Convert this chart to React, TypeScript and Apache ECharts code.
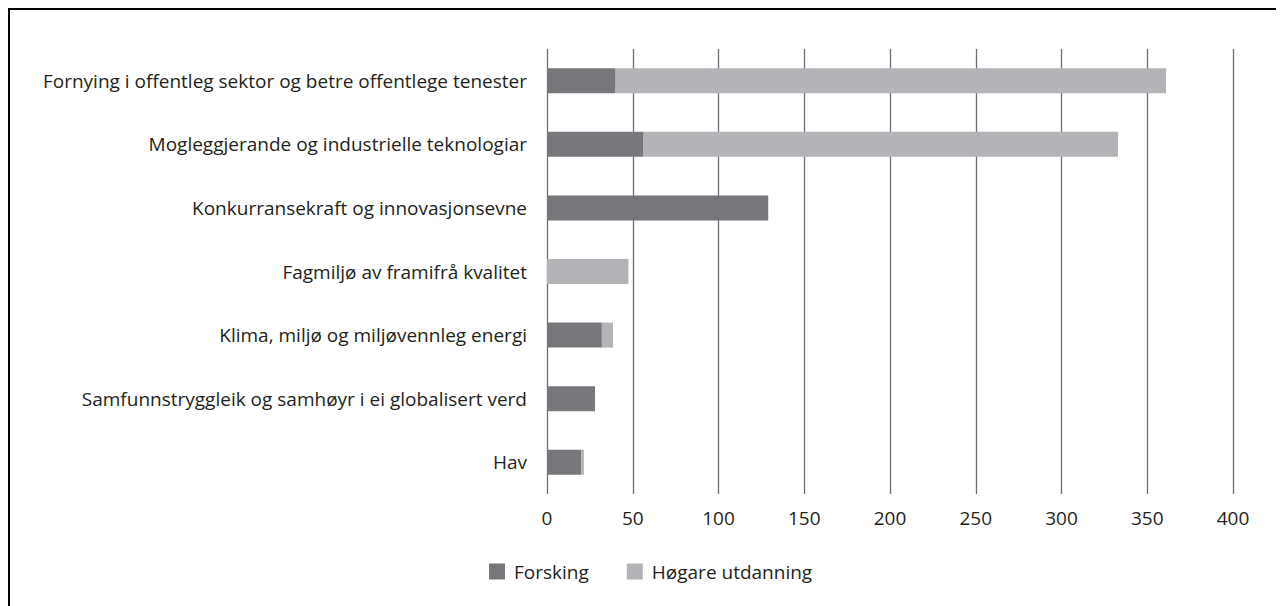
import React, { useEffect, useRef } from "react";
import * as echarts from "echarts";

const categories = [
  "Fornying i offentleg sektor og betre offentlege tenester",
  "Mogleggjerande og industrielle teknologiar",
  "Konkurransekraft og innovasjonsevne",
  "Fagmiljø av framifrå kvalitet",
  "Klima, miljø og miljøvennleg energi",
  "Samfunnstryggleik og samhøyr i ei globalisert verd",
  "Hav",
];
const forsking = [40, 56, 129, 0, 32, 28, 20];
const hogareUtdanning = [321, 277, 0, 47.5, 6.5, 0, 1.5];
const seriesNames = ["Forsking", "Høgare utdanning"];

const FONT = "'Open Sans', 'Noto Sans', sans-serif";
const FS = 19;

export default function App() {
  const ref = useRef<HTMLDivElement>(null);
  useEffect(() => {
    if (!ref.current) return;
    const chart = echarts.init(ref.current, undefined, { renderer: "svg" });
    chart.setOption({
      animation: false,
      backgroundColor: "#ffffff",
      grid: { left: 537, right: 51, top: 39, bottom: 112, containLabel: false },
      legend: {
        data: seriesNames,
        left: 474,
        top: 547,
        itemWidth: 16,
        itemHeight: 16,
        itemGap: 38,
        icon: "rect",
        textStyle: { fontFamily: FONT, fontSize: FS, color: "#231f20", padding: [0, 0, 0, 4] },
      },
      xAxis: {
        type: "value",
        min: 0,
        max: 400,
        interval: 50,
        axisLine: { show: false },
        axisTick: { show: false },
        axisLabel: { fontFamily: FONT, fontSize: FS, color: "#231f20", margin: 14 },
        splitLine: { show: true, lineStyle: { color: "#6d6e71", width: 1.3 } },
      },
      yAxis: {
        type: "category",
        data: categories,
        inverse: true,
        axisLine: { show: false },
        axisTick: { show: false },
        axisLabel: { fontFamily: FONT, fontSize: FS, color: "#231f20", margin: 20 },
      },
      series: [
        {
          name: seriesNames[0],
          type: "bar",
          stack: "total",
          data: forsking,
          barWidth: 25,
          itemStyle: { color: "#76777b" },
        },
        {
          name: seriesNames[1],
          type: "bar",
          stack: "total",
          data: hogareUtdanning,
          barWidth: 25,
          itemStyle: { color: "#b3b4b8" },
        },
      ],
    });
    return () => chart.dispose();
  }, []);
  return (
    <div
      style={{
        width: 1276,
        height: 598,
        boxSizing: "border-box",
        borderTop: "2px solid #000",
        borderLeft: "2px solid #000",
        overflow: "hidden",
      }}
    >
      <div ref={ref} style={{ width: 1274, height: 596 }} />
    </div>
  );
}
